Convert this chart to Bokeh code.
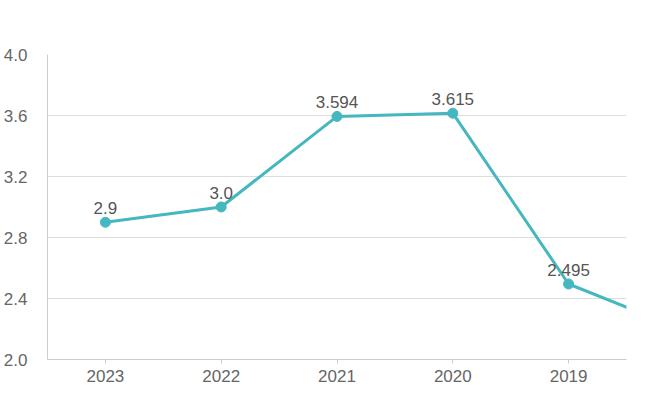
from bokeh.plotting import figure
from bokeh.models import Range1d, FixedTicker, Legend, LegendItem, ColumnDataSource
from bokeh.embed import file_html
from bokeh.resources import INLINE

years = ["2023", "2022", "2021", "2020", "2019", "2018"]
impact = [2.9, 3.0, 3.594, 3.615, 2.495, 2.19]
labels = ["2.9", "3.0", "3.594", "3.615", "2.495", "2.19"]
y_ticks = [2.0, 2.4, 2.8, 3.2, 3.6, 4.0]
series_name = "影响因子"

COLOR = "#45b7bf"
xs = list(range(len(years)))
src = ColumnDataSource(dict(x=xs, y=impact, t=labels))

p = figure(width=635, height=386, output_backend="svg", toolbar_location=None,
           x_range=Range1d(-0.5, 4.5), y_range=Range1d(2.0, 4.0),
           min_border_left=47, min_border_right=9, min_border_top=54, min_border_bottom=27)
p.outline_line_color = None
p.background_fill_color = "white"

p.line("x", "y", source=src, line_color=COLOR, line_width=3)
p.scatter("x", "y", source=src, size=10, fill_color=COLOR, line_color=COLOR)
p.text("x", "y", text="t", source=src, y_offset=-8, text_align="center",
       text_baseline="bottom", text_font_size="17px", text_color="#555555",
       text_font={"value": "Liberation Sans"})

dummy = p.line(x=[], y=[], line_color=COLOR, line_width=6)
leg = Legend(items=[LegendItem(label=series_name, renderers=[dummy])],
             location=(-24, 318), border_line_color=None, background_fill_alpha=0,
             glyph_width=28, glyph_height=20, label_text_font_size="18px",
             label_text_color="#444444", label_text_font="Noto Sans CJK SC",
             padding=0, margin=0, label_standoff=10)
p.add_layout(leg, "center")

# axes
p.xaxis.ticker = FixedTicker(ticks=xs[:5])
p.xaxis.major_label_overrides = {i: years[i] for i in xs[:5]}
p.xaxis.axis_line_color = "#cccccc"
p.xaxis.major_tick_line_color = "#cccccc"
p.xaxis.major_tick_out = 4
p.xaxis.major_tick_in = 0
p.xaxis.minor_tick_line_color = None
p.xaxis.major_label_text_font_size = "17px"
p.xaxis.major_label_text_color = "#666666"
p.xaxis.major_label_text_font = "Liberation Sans"
p.xaxis.major_label_standoff = 6

p.yaxis.ticker = FixedTicker(ticks=y_ticks)
p.yaxis.formatter.__class__
from bokeh.models import CustomJSTickFormatter
p.yaxis.formatter = CustomJSTickFormatter(code="return tick.toFixed(1);")
p.yaxis.axis_line_color = "#cccccc"
p.yaxis.major_tick_line_color = None
p.yaxis.minor_tick_line_color = None
p.yaxis.major_label_text_font_size = "17px"
p.yaxis.major_label_text_color = "#666666"
p.yaxis.major_label_text_font = "Liberation Sans"
p.yaxis.major_label_standoff = 14

p.xgrid.grid_line_color = None
p.ygrid.grid_line_color = "#dddddd"
p.ygrid.ticker = FixedTicker(ticks=y_ticks)

open("out.html", "w").write(file_html(p, INLINE))
